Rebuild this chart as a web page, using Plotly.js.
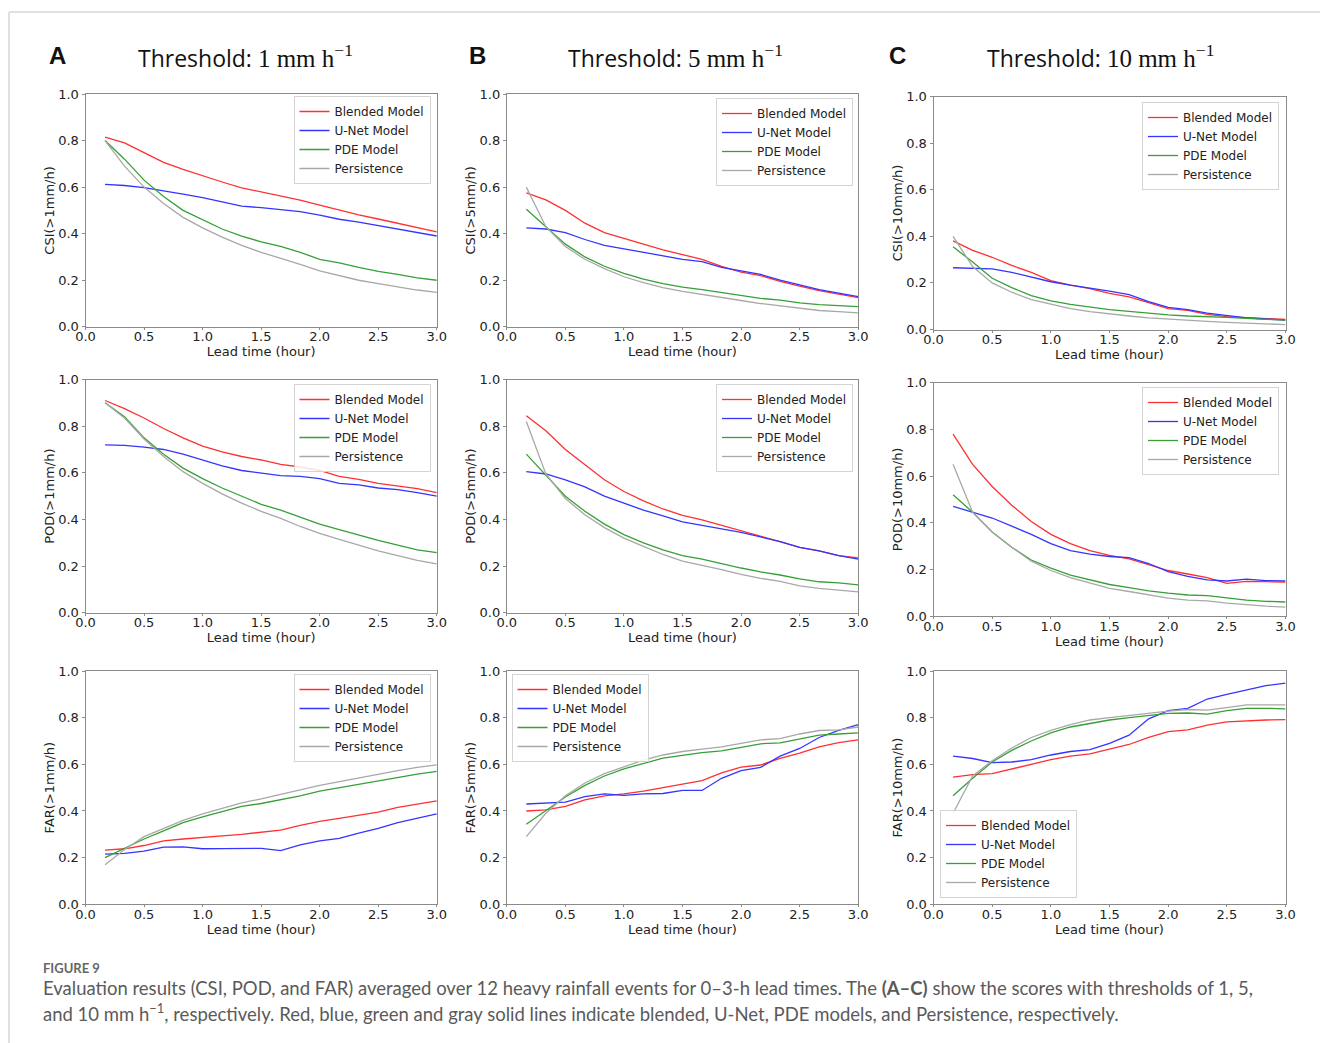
<!DOCTYPE html>
<html>
<head>
<meta charset="utf-8">
<script src="https://cdn.plot.ly/plotly-3.0.1.min.js"></script>
<style>
  html, body { margin: 0; padding: 0; background: #ffffff; }
  #chart { width: 1320px; height: 1043px; }
</style>
</head>
<body>
<div id="chart"></div>
<script>
// ---------------- DATA ----------------
const leadTime = [0.1667, 0.3333, 0.5, 0.6667, 0.8333, 1.0, 1.1667, 1.3333, 1.5, 1.6667, 1.8333, 2.0, 2.1667, 2.3333, 2.5, 2.6667, 2.8333, 3.0];

const seriesNames = ["Blended Model", "U-Net Model", "PDE Model", "Persistence"];

// CSI, threshold 1 mm/h
const csi1Blended = [0.815, 0.79, 0.748, 0.706, 0.676, 0.648, 0.622, 0.597, 0.58, 0.563, 0.544, 0.523, 0.501, 0.481, 0.463, 0.444, 0.425, 0.408];
const csi1Unet    = [0.612, 0.607, 0.598, 0.585, 0.57, 0.555, 0.535, 0.518, 0.512, 0.505, 0.495, 0.48, 0.462, 0.45, 0.435, 0.42, 0.405, 0.39];
const csi1Pde     = [0.80, 0.72, 0.63, 0.56, 0.50, 0.46, 0.42, 0.39, 0.365, 0.345, 0.32, 0.29, 0.275, 0.255, 0.238, 0.225, 0.21, 0.20];
const csi1Persist = [0.80, 0.69, 0.60, 0.53, 0.47, 0.425, 0.385, 0.35, 0.32, 0.295, 0.268, 0.24, 0.22, 0.20, 0.185, 0.17, 0.158, 0.148];

// CSI, threshold 5 mm/h
const csi5Blended = [0.575, 0.545, 0.50, 0.445, 0.405, 0.38, 0.355, 0.33, 0.31, 0.29, 0.26, 0.235, 0.22, 0.195, 0.175, 0.155, 0.14, 0.125];
const csi5Unet    = [0.425, 0.42, 0.405, 0.375, 0.35, 0.335, 0.32, 0.305, 0.29, 0.28, 0.255, 0.24, 0.225, 0.2, 0.18, 0.16, 0.145, 0.13];
const csi5Pde     = [0.505, 0.43, 0.355, 0.30, 0.26, 0.23, 0.205, 0.185, 0.17, 0.16, 0.148, 0.135, 0.122, 0.115, 0.103, 0.095, 0.09, 0.087];
const csi5Persist = [0.60, 0.43, 0.345, 0.29, 0.25, 0.215, 0.19, 0.168, 0.152, 0.14, 0.125, 0.113, 0.10, 0.09, 0.078, 0.07, 0.065, 0.06];

// CSI, threshold 10 mm/h
const csi10Blended = [0.38, 0.34, 0.31, 0.275, 0.245, 0.21, 0.19, 0.175, 0.155, 0.14, 0.115, 0.09, 0.082, 0.065, 0.055, 0.05, 0.045, 0.043];
const csi10Unet    = [0.265, 0.262, 0.26, 0.245, 0.225, 0.205, 0.19, 0.178, 0.165, 0.15, 0.12, 0.095, 0.085, 0.07, 0.06, 0.05, 0.045, 0.04];
const csi10Pde     = [0.355, 0.29, 0.22, 0.18, 0.145, 0.123, 0.108, 0.095, 0.085, 0.078, 0.07, 0.063, 0.058, 0.056, 0.052, 0.048, 0.045, 0.04];
const csi10Persist = [0.40, 0.27, 0.20, 0.16, 0.128, 0.108, 0.09, 0.077, 0.066, 0.058, 0.05, 0.044, 0.039, 0.035, 0.031, 0.027, 0.024, 0.021];

// POD, threshold 1 mm/h
const pod1Blended = [0.91, 0.875, 0.835, 0.79, 0.75, 0.714, 0.69, 0.67, 0.655, 0.636, 0.625, 0.61, 0.585, 0.572, 0.555, 0.545, 0.532, 0.515];
const pod1Unet    = [0.72, 0.718, 0.71, 0.70, 0.68, 0.655, 0.63, 0.61, 0.60, 0.588, 0.585, 0.575, 0.555, 0.548, 0.535, 0.528, 0.515, 0.50];
const pod1Pde     = [0.90, 0.84, 0.75, 0.68, 0.62, 0.575, 0.535, 0.50, 0.465, 0.44, 0.41, 0.38, 0.357, 0.333, 0.31, 0.29, 0.27, 0.258];
const pod1Persist = [0.90, 0.835, 0.745, 0.67, 0.605, 0.555, 0.51, 0.47, 0.435, 0.405, 0.37, 0.34, 0.315, 0.29, 0.265, 0.245, 0.225, 0.21];

// POD, threshold 5 mm/h
const pod5Blended = [0.845, 0.78, 0.70, 0.635, 0.57, 0.52, 0.48, 0.445, 0.418, 0.398, 0.375, 0.35, 0.33, 0.305, 0.28, 0.265, 0.245, 0.235];
const pod5Unet    = [0.605, 0.595, 0.57, 0.54, 0.50, 0.47, 0.44, 0.415, 0.39, 0.375, 0.36, 0.345, 0.325, 0.305, 0.28, 0.265, 0.245, 0.23];
const pod5Pde     = [0.68, 0.59, 0.50, 0.435, 0.38, 0.335, 0.30, 0.27, 0.245, 0.23, 0.21, 0.192, 0.175, 0.162, 0.145, 0.133, 0.128, 0.12];
const pod5Persist = [0.82, 0.595, 0.49, 0.42, 0.365, 0.32, 0.285, 0.25, 0.222, 0.205, 0.185, 0.165, 0.148, 0.135, 0.115, 0.105, 0.097, 0.09];

// POD, threshold 10 mm/h
const pod10Blended = [0.78, 0.65, 0.555, 0.475, 0.405, 0.35, 0.31, 0.28, 0.26, 0.245, 0.22, 0.195, 0.18, 0.165, 0.14, 0.148, 0.147, 0.145];
const pod10Unet    = [0.47, 0.445, 0.42, 0.385, 0.35, 0.31, 0.28, 0.265, 0.255, 0.25, 0.225, 0.19, 0.17, 0.155, 0.15, 0.158, 0.152, 0.15];
const pod10Pde     = [0.52, 0.445, 0.36, 0.295, 0.24, 0.205, 0.175, 0.155, 0.135, 0.122, 0.108, 0.098, 0.09, 0.087, 0.078, 0.068, 0.063, 0.06];
const pod10Persist = [0.65, 0.445, 0.36, 0.295, 0.235, 0.195, 0.165, 0.14, 0.118, 0.105, 0.09, 0.077, 0.068, 0.065, 0.055, 0.047, 0.042, 0.038];

// FAR, threshold 1 mm/h
const far1Blended = [0.232, 0.238, 0.252, 0.272, 0.28, 0.285, 0.293, 0.30, 0.308, 0.318, 0.338, 0.355, 0.368, 0.382, 0.395, 0.415, 0.43, 0.443];
const far1Unet    = [0.215, 0.218, 0.228, 0.245, 0.246, 0.238, 0.239, 0.239, 0.240, 0.23, 0.255, 0.272, 0.283, 0.305, 0.325, 0.35, 0.37, 0.388];
const far1Pde     = [0.20, 0.24, 0.28, 0.315, 0.35, 0.375, 0.398, 0.42, 0.432, 0.448, 0.465, 0.485, 0.50, 0.515, 0.53, 0.545, 0.558, 0.57];
const far1Persist = [0.17, 0.235, 0.29, 0.325, 0.36, 0.388, 0.412, 0.435, 0.452, 0.47, 0.49, 0.51, 0.526, 0.543, 0.558, 0.573, 0.587, 0.598];

// FAR, threshold 5 mm/h
const far5Blended = [0.40, 0.405, 0.42, 0.448, 0.465, 0.473, 0.485, 0.50, 0.515, 0.53, 0.563, 0.588, 0.597, 0.625, 0.648, 0.675, 0.693, 0.705];
const far5Unet    = [0.43, 0.433, 0.438, 0.462, 0.473, 0.467, 0.473, 0.475, 0.488, 0.488, 0.54, 0.573, 0.587, 0.635, 0.668, 0.715, 0.745, 0.77];
const far5Pde     = [0.343, 0.40, 0.46, 0.51, 0.55, 0.58, 0.605, 0.627, 0.638, 0.65, 0.658, 0.673, 0.688, 0.692, 0.71, 0.725, 0.73, 0.735];
const far5Persist = [0.29, 0.39, 0.465, 0.52, 0.56, 0.59, 0.618, 0.64, 0.655, 0.665, 0.675, 0.69, 0.705, 0.71, 0.73, 0.745, 0.748, 0.76];

// FAR, threshold 10 mm/h
const far10Blended = [0.545, 0.556, 0.56, 0.58, 0.60, 0.62, 0.635, 0.645, 0.665, 0.685, 0.715, 0.74, 0.748, 0.768, 0.782, 0.787, 0.79, 0.792];
const far10Unet    = [0.635, 0.625, 0.607, 0.61, 0.62, 0.64, 0.655, 0.663, 0.69, 0.725, 0.795, 0.83, 0.84, 0.88, 0.90, 0.92, 0.937, 0.948];
const far10Pde     = [0.465, 0.54, 0.61, 0.66, 0.70, 0.735, 0.76, 0.775, 0.79, 0.80, 0.81, 0.818, 0.82, 0.815, 0.83, 0.84, 0.84, 0.838];
const far10Persist = [0.39, 0.55, 0.615, 0.67, 0.715, 0.745, 0.77, 0.79, 0.80, 0.81, 0.82, 0.828, 0.835, 0.832, 0.843, 0.855, 0.855, 0.855];

const yTitles = ["CSI(>1mm/h)", "CSI(>5mm/h)", "CSI(>10mm/h)",
                 "POD(>1mm/h)", "POD(>5mm/h)", "POD(>10mm/h)",
                 "FAR(>1mm/h)", "FAR(>5mm/h)", "FAR(>10mm/h)"];
const xTitle = "Lead time (hour)";
const panelLetters = ["A", "B", "C"];
const thresholds = ["1", "5", "10"];

// ---------------- STYLE / LAYOUT ----------------
const W = 1320, H = 1043;
const lineColors = ["#ff3030", "#3535ff", "#36a036", "#a8a8a8"];
const panelSeries = [
  [csi1Blended, csi1Unet, csi1Pde, csi1Persist],
  [csi5Blended, csi5Unet, csi5Pde, csi5Persist],
  [csi10Blended, csi10Unet, csi10Pde, csi10Persist],
  [pod1Blended, pod1Unet, pod1Pde, pod1Persist],
  [pod5Blended, pod5Unet, pod5Pde, pod5Persist],
  [pod10Blended, pod10Unet, pod10Pde, pod10Persist],
  [far1Blended, far1Unet, far1Pde, far1Persist],
  [far5Blended, far5Unet, far5Pde, far5Persist],
  [far10Blended, far10Unet, far10Pde, far10Persist]
];

// pixel boxes of each plotting area [left, right, top, bottom]
const boxes = [
  [85.5, 436.8, 94, 326.8], [506.8, 858.2, 94, 326.8], [933.5, 1285.5, 96.5, 329.5],
  [85.5, 436.8, 379.5, 612.8], [506.8, 858.2, 379.5, 612.8], [933.5, 1285.5, 382.7, 616],
  [85.5, 436.8, 671, 904.3], [506.8, 858.2, 671, 904.3], [933.5, 1285.5, 671, 904.3]
];
// legend placement [px x, px y, xanchor, yanchor]
const legendPos = [
  [430.5, 96, "right", "top"], [853, 98, "right", "top"], [1279, 102, "right", "top"],
  [430.5, 384, "right", "top"], [853, 384, "right", "top"], [1279, 387, "right", "top"],
  [430.5, 674, "right", "top"], [511.5, 674, "left", "top"], [940, 898, "left", "bottom"]
];

const traces = [];
const layout = {
  width: W, height: H,
  margin: {l: 0, r: 0, t: 0, b: 0},
  paper_bgcolor: "#ffffff",
  plot_bgcolor: "#ffffff",
  showlegend: true,
  font: {family: "DejaVu Sans", color: "#222"},
  annotations: [],
  shapes: []
};

const axisColor = "#8a8a8a";
for (let p = 0; p < 9; p++) {
  const suf = p === 0 ? "" : String(p + 1);
  const b = boxes[p];
  const legName = "legend" + suf;
  for (let s = 0; s < 4; s++) {
    traces.push({
      type: "scatter", mode: "lines",
      x: leadTime, y: panelSeries[p][s],
      name: seriesNames[s],
      line: {color: lineColors[s], width: 1.3},
      xaxis: "x" + suf, yaxis: "y" + suf,
      legend: legName,
      showlegend: true
    });
  }
  layout["xaxis" + suf] = {
    domain: [b[0] / W, b[1] / W],
    anchor: "y" + suf,
    range: [0, 3], dtick: 0.5, tick0: 0, tickformat: ".1f",
    showline: true, mirror: true, linecolor: axisColor, linewidth: 1,
    ticks: "outside", ticklen: 2, tickcolor: axisColor, tickwidth: 1,
    ticklabelstandoff: -4,
    showgrid: false, zeroline: false,
    tickfont: {family: "DejaVu Sans", size: 13, color: "#222"},
    title: {text: xTitle, font: {family: "DejaVu Sans", size: 13, color: "#222"}, standoff: 1},
    automargin: false
  };
  layout["yaxis" + suf] = {
    domain: [1 - b[3] / H, 1 - b[2] / H],
    anchor: "x" + suf,
    range: [0, 1], dtick: 0.2, tick0: 0, tickformat: ".1f",
    showline: true, mirror: true, linecolor: axisColor, linewidth: 1,
    ticks: "outside", ticklen: 3, tickcolor: axisColor, tickwidth: 1,
    showgrid: false, zeroline: false,
    tickfont: {family: "DejaVu Sans", size: 13, color: "#222"},
    title: {text: yTitles[p], font: {family: "DejaVu Sans", size: 13, color: "#222"}, standoff: 0},
    automargin: false
  };
  const lp = legendPos[p];
  layout[legName] = {
    x: lp[0] / W, y: 1 - lp[1] / H,
    xref: "paper", yref: "paper",
    xanchor: lp[2], yanchor: lp[3],
    bgcolor: "rgba(255,255,255,0.85)",
    bordercolor: "#d4d4d4", borderwidth: 1,
    font: {family: "DejaVu Sans", size: 12, color: "#222"},
    tracegroupgap: 0,
    itemwidth: 30
  };
}

// panel letters and column titles
const letterX = [47, 467, 887];
const titleX = [136, 566, 985];
for (let c = 0; c < 3; c++) {
  layout.annotations.push({
    xref: "paper", yref: "paper",
    x: letterX[c] / W, y: 1 - 55 / H,
    xanchor: "left", yanchor: "middle",
    showarrow: false,
    text: "<b>" + panelLetters[c] + "</b>",
    font: {family: "Liberation Sans", size: 24, color: "#111"}
  });
  layout.annotations.push({
    xref: "paper", yref: "paper",
    x: titleX[c] / W, y: 1 - 57 / H,
    xanchor: "left", yanchor: "middle",
    showarrow: false,
    text: "Threshold: <span style=\"font-family:'Liberation Serif';font-size:25px\">" + thresholds[c] + " mm h<sup>−1</sup></span>",
    font: {family: "Open Sans", size: 23, color: "#111"}
  });
}

// caption
layout.annotations.push({
  xref: "paper", yref: "paper", x: 41 / W, y: 1 - 968 / H,
  xanchor: "left", yanchor: "middle", showarrow: false,
  text: "FIGURE 9",
  font: {family: "Lato", size: 13, color: "#666", weight: 700}
});
layout.annotations.push({
  xref: "paper", yref: "paper", x: 41 / W, y: 1 - 988 / H,
  xanchor: "left", yanchor: "middle", showarrow: false,
  text: "Evaluation results (CSI, POD, and FAR) averaged over 12 heavy rainfall events for 0–3-h lead times. The <b>(A–C)</b> show the scores with thresholds of 1, 5,",
  font: {family: "Lato", size: 18.5, color: "#5a5a5a"}
});
layout.annotations.push({
  xref: "paper", yref: "paper", x: 41 / W, y: 1 - 1012 / H,
  xanchor: "left", yanchor: "middle", showarrow: false,
  text: "and 10 mm h<sup>−1</sup>, respectively. Red, blue, green and gray solid lines indicate blended, U-Net, PDE models, and Persistence, respectively.",
  font: {family: "Lato", size: 18.5, color: "#5a5a5a"}
});

// card frame (top and left border)
layout.shapes.push({
  type: "line", xref: "paper", yref: "paper",
  x0: 9 / W, x1: 1, y0: 1 - 12 / H, y1: 1 - 12 / H,
  line: {color: "#d6d6d6", width: 1.5}
});
layout.shapes.push({
  type: "line", xref: "paper", yref: "paper",
  x0: 9 / W, x1: 9 / W, y0: 0, y1: 1 - 12 / H,
  line: {color: "#d6d6d6", width: 1.5}
});

Plotly.newPlot("chart", traces, layout, {staticPlot: true, displayModeBar: false});
</script>
</body>
</html>
